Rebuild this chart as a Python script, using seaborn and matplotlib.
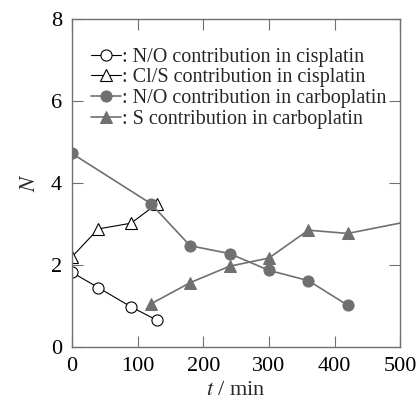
import numpy as np
import pandas as pd
import seaborn as sns
import matplotlib.pyplot as plt

# 数据
t_cis = [0, 40, 90, 130]
no_cis = [1.82, 1.45, 0.98, 0.65]
cls_cis = [2.20, 2.88, 3.02, 3.50]

t_carbo_no = [0, 120, 180, 240, 300, 360, 420]
no_carbo = [4.72, 3.50, 2.47, 2.28, 1.87, 1.62, 1.02]

t_carbo_s = [120, 180, 240, 300, 360, 420, 540]
s_carbo = [1.05, 1.57, 1.97, 2.17, 2.85, 2.77, 3.15]

labels = [': N/O contribution in cisplatin',
          ': Cl/S contribution in cisplatin',
          ': N/O contribution in carboplatin',
          ': S contribution in carboplatin']

sns.set_theme(style='white')
plt.rcParams['font.family'] = ['Liberation Serif', 'DejaVu Serif']
plt.rcParams['mathtext.fontset'] = 'stix'

grey = '#707070'
fig = plt.figure(figsize=(4.16, 4.04), dpi=100)
ax = fig.add_axes([0.173, 0.141, 0.789, 0.812])

sns.lineplot(x=t_cis, y=no_cis, ax=ax, color='black', lw=0.8, marker='o', ms=8,
             mfc='white', mec='black', mew=0.8, label=labels[0])
sns.lineplot(x=t_cis, y=cls_cis, ax=ax, color='black', lw=0.8, marker='^', ms=9,
             mfc='white', mec='black', mew=0.8, label=labels[1])
sns.lineplot(x=t_carbo_no, y=no_carbo, ax=ax, color=grey, lw=1.2, marker='o', ms=8,
             mfc=grey, mec=grey, label=labels[2])
sns.lineplot(x=t_carbo_s, y=s_carbo, ax=ax, color=grey, lw=1.2, marker='^', ms=9,
             mfc=grey, mec=grey, label=labels[3])

ax.set_xlim(0, 500)
ax.set_ylim(0, 8)
ax.set_xticks(np.arange(0, 501, 100))
ax.set_yticks(np.arange(0, 9, 2))
ax.xaxis.set_ticks_position('both')
ax.yaxis.set_ticks_position('both')
ax.tick_params(direction='in', length=8, width=0.8, color=grey, labelsize=16,
               labelcolor='black', pad=7)
for sp in ax.spines.values():
    sp.set_color(grey)
    sp.set_linewidth(1.0)

ax.set_xlabel(r'$t$ / min', fontsize=16, labelpad=4)
ax.set_ylabel(r'$N$', fontsize=16, labelpad=8)

leg = ax.legend(loc='upper left', bbox_to_anchor=(0.02, 0.95), frameon=False,
                fontsize=14.5, handlelength=1.5, handletextpad=0.05,
                labelspacing=0.08, borderaxespad=0.2)

fig.savefig('out.png', dpi=100)
